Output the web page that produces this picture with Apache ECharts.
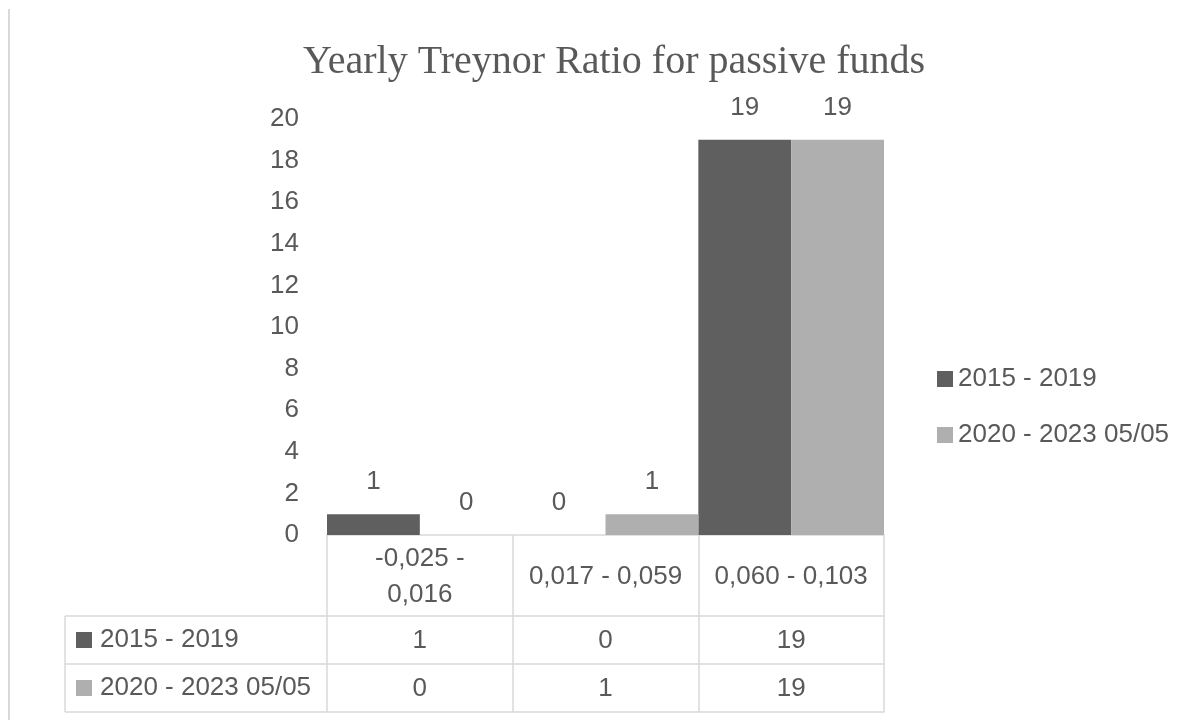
<!DOCTYPE html>
<html>
<head>
<meta charset="utf-8">
<script src="https://cdn.jsdelivr.net/npm/echarts@6/dist/echarts.min.js"></script>
<style>
  html, body { margin: 0; padding: 0; background: #ffffff; }
  #chart { width: 1200px; height: 720px; }
</style>
</head>
<body>
<div id="chart"></div>
<script>
// Treynor ratio ranges (category labels, as printed in the data table header)
const categories = ['-0,025 -\n0,016', '0,017 - 0,059', '0,060 - 0,103'];
const seriesNames = ['2015 - 2019', '2020 - 2023 05/05'];
// Number of funds per range
const funds2015_2019 = [1, 0, 19];
const funds2020_2023 = [0, 1, 19];
const yTicks = { min: 0, max: 20, interval: 2 };

const TEXT = '#595959';
const LINE = '#d9d9d9';
const COLORS = ['#5f5f5f', '#afafaf'];
const FONT = '"Liberation Sans", Arial, sans-serif';

// plot area and data-table geometry
const GRID = { left: 327, right: 316, top: 119, bottom: 185 };
const ROW1 = 81, ROW2 = 129, ROW3 = 177;   // table row lines below the axis
const TABLE_LEFT = 65;

const chart = echarts.init(document.getElementById('chart'), null, { renderer: 'canvas' });

const rows = [funds2015_2019, funds2020_2023];

function tableAxis(offset, values) {
  return {
    type: 'category',
    data: categories,
    position: 'bottom',
    offset: offset,
    axisLine: { show: true, lineStyle: { color: LINE, width: 1.5 } },
    axisTick: { show: false },
    axisLabel: {
      show: !!values,
      margin: 25,
      verticalAlign: 'middle',
      fontFamily: FONT, fontSize: 26, color: TEXT,
      formatter: (v, i) => values ? String(values[i]) : ''
    }
  };
}

const option = {
  backgroundColor: '#ffffff',
  animation: false,
  title: {
    text: 'Yearly Treynor Ratio for passive funds',
    left: 609, top: 37, textAlign: 'center',
    textStyle: { fontFamily: '"Liberation Serif", "Times New Roman", serif', fontSize: 40, fontWeight: 'normal', color: TEXT }
  },
  legend: {
    data: seriesNames,
    orient: 'vertical',
    left: 937, top: 364, padding: 0,
    icon: 'rect', itemWidth: 16, itemHeight: 16, itemGap: 26,
    textStyle: { fontFamily: FONT, fontSize: 26, color: TEXT, lineHeight: 30 }
  },
  grid: { left: GRID.left, right: GRID.right, top: GRID.top, bottom: GRID.bottom, containLabel: false },
  xAxis: [
    {
      type: 'category',
      data: categories,
      position: 'bottom',
      axisLine: { show: true, lineStyle: { color: LINE, width: 1.5 } },
      axisTick: { show: true, length: ROW3, lineStyle: { color: LINE, width: 1.5 } },
      axisLabel: {
        margin: 42, verticalAlign: 'middle', lineHeight: 36,
        fontFamily: FONT, fontSize: 26, color: TEXT, interval: 0
      }
    },
    tableAxis(ROW1, funds2015_2019),
    tableAxis(ROW2, funds2020_2023),
    tableAxis(ROW3, null)
  ],
  yAxis: {
    type: 'value',
    min: yTicks.min, max: yTicks.max, interval: yTicks.interval,
    axisLine: { show: false },
    axisTick: { show: false },
    splitLine: { show: false },
    axisLabel: { margin: 28, fontFamily: FONT, fontSize: 26, color: TEXT }
  },
  series: seriesNames.map((name, k) => ({
    name: name,
    type: 'bar',
    xAxisIndex: 0,
    data: rows[k],
    barGap: '0%',
    barCategoryGap: '0%',
    itemStyle: { color: COLORS[k] },
    label: {
      show: true, position: 'top', distance: 19,
      fontFamily: FONT, fontSize: 26, color: TEXT
    }
  }))
};

chart.setOption(option);

// Row-header column of the data table (legend keys + series names) and the left frame line
function drawTableHeader() {
  const axisY = 720 - GRID.bottom;
  const ys = [axisY + ROW1, axisY + ROW2, axisY + ROW3];
  const els = [
    { type: 'line', shape: { x1: 9, y1: 9, x2: 9, y2: 720 }, style: { stroke: LINE, lineWidth: 2 } },
    { type: 'line', shape: { x1: TABLE_LEFT, y1: ys[0], x2: TABLE_LEFT, y2: ys[2] }, style: { stroke: LINE, lineWidth: 1.5 } }
  ];
  ys.forEach(y => els.push({ type: 'line', shape: { x1: TABLE_LEFT, y1: y, x2: GRID.left, y2: y }, style: { stroke: LINE, lineWidth: 1.5 } }));
  seriesNames.forEach((name, k) => {
    const cy = (ys[k] + ys[k + 1]) / 2;
    els.push({ type: 'rect', shape: { x: TABLE_LEFT + 11, y: cy - 8, width: 16, height: 16 }, style: { fill: COLORS[k] } });
    els.push({ type: 'text', x: TABLE_LEFT + 35, y: cy, style: { text: name, font: '26px ' + FONT, fill: TEXT, verticalAlign: 'middle', align: 'left' } });
  });
  chart.setOption({ graphic: els });
}
drawTableHeader();
</script>
</body>
</html>
